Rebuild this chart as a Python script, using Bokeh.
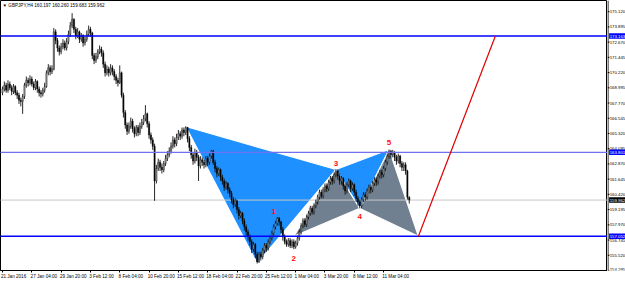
from bokeh.plotting import figure
from bokeh.layouts import row
from bokeh.models import FixedTicker, Label, Range1d, ColumnDataSource
from bokeh.embed import file_html
from bokeh.resources import INLINE
from bokeh.core.properties import value

header = "\u25bc GBPJPY,H4 160.197 160.260 159.683 159.962"

date_ticks = [0, 16, 32, 48, 64, 80, 96, 112, 128, 144, 160, 176, 192, 208]
date_labels = ["21 Jan 2016", "27 Jan 04:00", "29 Jan 20:00", "3 Feb 12:00", "8 Feb 04:00",
               "10 Feb 20:00", "15 Feb 12:00", "18 Feb 04:00", "22 Feb 20:00", "25 Feb 12:00",
               "1 Mar 04:00", "3 Mar 20:00", "8 Mar 12:00", "11 Mar 04:00"]

price_ticks = [154.295, 155.520, 156.745, 157.970, 159.195, 160.420, 161.645, 162.870, 164.095,
               165.320, 166.545, 167.770, 168.995, 170.220, 171.445, 172.670, 173.895, 175.120]

first_open = 168.6
close = [168.9, 169.2, 168.8, 169.3, 169.0, 168.7, 169.1, 168.6, 168.4, 168.0,
         167.9, 168.3, 169.2, 169.6, 169.4, 169.7, 169.3, 169.0, 169.5, 168.9,
         168.6, 168.5, 168.8, 169.1, 170.2, 170.6, 170.3, 170.5, 173.5, 172.8,
         172.2, 171.9, 172.3, 172.6, 172.2, 172.7, 173.3, 174.0, 174.5, 173.7,
         173.2, 173.5, 172.9, 173.2, 172.6, 172.9, 173.3, 173.7, 173.4, 171.6,
         171.2, 171.5, 171.9, 172.1, 171.8, 170.9, 170.2, 170.5, 170.2, 170.6,
         170.3, 169.9, 169.6, 169.4, 170.2, 168.4, 167.0, 166.0, 165.5, 165.9,
         166.3, 165.7, 165.3, 165.8, 165.4, 165.9, 166.2, 166.5, 166.9, 166.1,
         165.2, 164.8, 164.3, 161.5, 162.5, 163.0, 162.6, 162.4, 162.9, 163.3,
         163.6, 163.9, 164.3, 164.8, 164.5, 165.0, 165.3, 165.1, 165.6, 165.4,
         165.8, 164.9, 164.2, 163.6, 163.1, 163.8, 163.4, 162.7, 163.2, 163.0,
         162.8, 163.3, 163.0, 163.5, 163.9, 163.0, 162.5, 162.1, 162.4, 161.8,
         161.5, 161.0, 161.3, 160.8, 160.5, 160.0, 159.6, 159.9, 159.2, 158.7,
         158.9, 158.3, 157.8, 157.4, 157.0, 156.6, 156.0, 156.4, 155.6, 155.0,
         155.6, 155.4, 155.9, 156.3, 156.1, 156.6, 156.9, 157.3, 157.8, 158.1,
         158.5, 158.2, 157.6, 157.0, 156.6, 156.4, 156.7, 156.3, 156.6, 156.2,
         156.5, 156.9, 157.4, 157.9, 158.3, 158.0, 158.6, 158.9, 159.3, 159.0,
         159.5, 159.8, 160.2, 160.6, 160.3, 160.8, 161.1, 160.9, 161.4, 161.7,
         161.5, 162.0, 162.3, 161.9, 161.5, 161.7, 161.1, 160.7, 161.2, 161.5,
         160.9, 161.2, 160.6, 160.1, 159.8, 159.5, 160.0, 160.4, 160.2, 160.7,
         161.0, 160.8, 161.3, 161.6, 161.4, 161.9, 162.2, 162.0, 162.5, 163.0,
         163.5, 163.9, 163.6, 163.8, 163.4, 163.1, 163.5, 162.9, 162.6, 162.8,
         162.3, 160.197, 159.962]
high = [169.1, 169.5, 169.4, 169.6, 169.5, 169.2, 169.3, 169.2, 168.8, 168.6,
        168.2, 168.5, 169.4, 169.9, 169.8, 170.0, 169.9, 169.5, 169.7, 169.6,
        169.1, 168.8, 169.0, 169.4, 170.4, 170.9, 170.8, 170.8, 173.8, 173.7,
        173.0, 172.4, 172.6, 172.9, 172.8, 173.0, 173.6, 174.3, 175.0, 174.6,
        173.9, 173.8, 173.6, 173.4, 173.3, 173.1, 173.6, 174.0, 173.9, 173.5,
        171.8, 171.8, 172.1, 172.4, 172.3, 172.0, 171.1, 170.8, 170.7, 170.9,
        170.8, 170.5, 170.1, 169.8, 170.8, 170.3, 168.6, 167.2, 166.2, 166.2,
        166.6, 166.5, 165.9, 166.0, 166.0, 166.2, 166.5, 166.8, 167.6, 167.0,
        166.3, 165.4, 165.0, 164.5, 162.8, 163.3, 163.2, 162.9, 163.1, 163.6,
        163.9, 164.2, 164.6, 165.1, 165.0, 165.3, 165.6, 165.5, 165.8, 165.8,
        165.9, 165.85, 165.1, 164.4, 163.8, 164.1, 164.0, 163.6, 163.5, 163.4,
        163.2, 163.5, 163.5, 163.7, 164.0, 164.0, 163.2, 162.7, 162.6, 162.5,
        162.0, 161.7, 161.5, 161.4, 161.0, 160.7, 160.2, 160.1, 160.0, 159.4,
        159.1, 159.0, 158.5, 158.0, 157.6, 157.2, 156.8, 156.6, 156.5, 155.8,
        155.8, 155.8, 156.1, 156.5, 156.5, 156.8, 157.1, 157.5, 158.0, 158.3,
        158.6, 158.6, 158.3, 157.8, 157.2, 156.8, 156.9, 156.9, 156.8, 156.8,
        156.7, 157.1, 157.6, 158.1, 158.5, 158.5, 158.8, 159.1, 159.5, 159.5,
        159.7, 160.0, 160.4, 160.8, 160.8, 161.0, 161.3, 161.3, 161.6, 161.9,
        161.9, 162.2, 162.45, 162.4, 162.1, 161.9, 161.8, 161.3, 161.4, 161.7,
        161.6, 161.4, 161.3, 160.8, 160.3, 160.0, 160.2, 160.6, 160.6, 160.9,
        161.2, 161.2, 161.5, 161.8, 161.8, 162.1, 162.4, 162.4, 162.7, 163.2,
        163.7, 164.03, 164.0, 164.0, 163.9, 163.6, 163.7, 163.6, 163.1, 163.0,
        163.0, 162.4, 160.26]
low = [168.4, 168.7, 168.6, 168.6, 168.8, 168.4, 168.5, 168.4, 168.1, 167.7,
       167.5, 166.9, 168.1, 169.0, 169.1, 169.2, 169.1, 168.8, 168.8, 168.6,
       168.3, 168.2, 168.3, 168.6, 169.0, 170.0, 170.0, 170.1, 170.4, 172.5,
       171.9, 171.6, 171.7, 172.1, 172.0, 172.0, 172.5, 173.1, 173.8, 173.4,
       172.9, 173.0, 172.6, 172.7, 172.3, 172.4, 172.7, 173.1, 173.1, 171.3,
       170.9, 171.0, 171.3, 171.7, 171.5, 170.6, 169.9, 170.0, 169.9, 170.0,
       170.0, 169.6, 169.3, 169.1, 169.3, 168.2, 166.6, 165.7, 165.2, 165.3,
       165.7, 165.4, 165.0, 165.1, 165.1, 165.2, 165.7, 166.0, 166.3, 165.8,
       164.9, 164.5, 164.0, 159.9, 161.3, 162.3, 162.3, 162.1, 162.2, 162.7,
       163.1, 163.4, 163.7, 164.1, 164.2, 164.3, 164.8, 164.8, 164.9, 165.1,
       165.2, 164.6, 163.9, 163.3, 162.8, 162.9, 163.1, 161.5, 162.5, 162.7,
       162.5, 162.6, 162.7, 162.8, 163.3, 162.8, 162.2, 161.8, 161.9, 161.5,
       161.2, 160.7, 160.8, 160.5, 160.2, 159.7, 159.3, 159.4, 158.9, 158.4,
       158.5, 158.0, 157.5, 157.1, 156.7, 156.3, 155.7, 155.8, 155.3, 154.86,
       154.9, 155.1, 155.2, 155.7, 155.8, 155.9, 156.4, 156.7, 157.1, 157.6,
       157.9, 157.9, 157.3, 156.7, 156.4, 156.2, 156.2, 156.1, 156.1, 156.0,
       156.05, 156.3, 156.7, 157.2, 157.7, 157.8, 157.8, 158.4, 158.7, 158.8,
       158.8, 159.3, 159.6, 160.0, 160.1, 160.1, 160.6, 160.6, 160.7, 161.2,
       161.2, 161.3, 161.8, 161.6, 161.2, 161.2, 160.8, 160.4, 160.5, 161.0,
       160.6, 160.7, 160.3, 159.8, 159.5, 159.3, 159.35, 159.8, 159.9, 160.0,
       160.5, 160.5, 160.6, 161.1, 161.1, 161.2, 161.7, 161.7, 161.8, 162.3,
       162.8, 163.3, 163.3, 163.4, 163.1, 162.8, 162.9, 162.6, 162.3, 162.3,
       162.0, 160.0, 159.683]

# harmonic pattern turning points (bar index, price)
pattern_idx = [100, 139, 159, 182, 195, 211, 227]
pattern_price = [165.88, 154.86, 157.05, 162.42, 159.29, 164.03, 157.05]
target_idx = [227, 269]
target_price = [157.05, 173.163]

wave_labels = ["1", "2", "3", "4", "5"]
wave_idx = [148, 159, 182, 195, 211]
wave_price = [159.05, 155.25, 162.90, 158.65, 164.62]

level_prices = [173.163, 163.801, 157.052]
level_colors = ["#0000ff", "#7070f0", "#0000ff"]
current_price = 159.962

Y_LO, Y_HI = 154.295, 176.02
AXIS_H = 11
LABEL_FONT = "4.3px"

n = len(close)
idx = list(range(n))
opens = [first_open] + close[:-1]
bull = [c >= o for o, c in zip(opens, close)]
src = ColumnDataSource(dict(
    x=idx, o=opens, c=close, h=high, l=low,
    top=[max(o, c) for o, c in zip(opens, close)],
    bot=[min(o, c) for o, c in zip(opens, close)],
    fill=["#9a9a9a" if b else "#000000" for b in bull],
))

# ---------------- main chart ----------------
yr = Range1d(Y_LO, Y_HI)
p = figure(width=607, height=281, output_backend="svg", toolbar_location=None,
           x_range=Range1d(-1.09, 330.2), y_range=yr,
           y_axis_location=None, min_border_left=0, min_border_top=0,
           min_border_right=0, min_border_bottom=AXIS_H)
p.xgrid.visible = False
p.ygrid.visible = False
p.outline_line_color = "#000000"
p.background_fill_color = "white"
p.border_fill_color = "white"

P = list(zip(pattern_idx, pattern_price))
tri = [(0, 1, 3), (2, 3, 4), (3, 5, 4), (4, 5, 6)]
tri_colors = ["#1e90ff", "#708090", "#1e90ff", "#708090"]
p.patches(xs=[[P[a][0], P[b][0], P[c][0]] for a, b, c in tri],
          ys=[[P[a][1], P[b][1], P[c][1]] for a, b, c in tri],
          fill_color=tri_colors, line_color="white", line_width=1.2)

p.line(x=[-5, 340], y=[current_price, current_price], line_color="#c8c8c8", line_width=1)

p.segment(x0="x", y0="l", x1="x", y1="h", source=src, line_color="#111111", line_width=0.9)
p.vbar(x="x", top="top", bottom="bot", width=0.7, source=src, fill_color="fill",
       line_color="#111111", line_width=0.4)

for lv, col in zip(level_prices, level_colors):
    p.line(x=[-5, 340], y=[lv, lv], line_color=col, line_width=1.4)

p.line(x=target_idx, y=target_price, line_color="#e00000", line_width=1.2)

p.text(x=wave_idx, y=wave_price, text=wave_labels, text_color="#ff1010",
       text_font=value("Liberation Sans"), text_font_size="8px", text_font_style="bold",
       text_align="center", text_baseline="middle")

label_pos = [t + 0.55 * len(s) for t, s in zip(date_ticks, date_labels)]
p.xaxis.ticker = FixedTicker(ticks=label_pos, minor_ticks=date_ticks)
p.xaxis.major_label_overrides = {t: s for t, s in zip(label_pos, date_labels)}
ax = p.xaxis[0]
ax.major_label_text_font = "Liberation Sans"
ax.major_label_text_font_size = "4.6px"
ax.major_label_text_color = "#000000"
ax.major_tick_in = 0
ax.major_tick_out = 0
ax.minor_tick_in = 0
ax.minor_tick_out = 2
ax.minor_tick_line_color = "#000000"
ax.axis_line_color = "#000000"
ax.major_label_standoff = 1

p.add_layout(Label(x=0.0, y=175.62, text=header, text_font="Liberation Sans",
                   text_font_size="4.6px", text_color="#000000", text_baseline="middle"))

# ---------------- price scale strip (right) ----------------
q = figure(width=18, height=281, output_backend="svg", toolbar_location=None,
           x_range=Range1d(0, 18), y_range=yr,
           x_axis_type=None, y_axis_type=None, min_border_left=0, min_border_top=0,
           min_border_right=0, min_border_bottom=AXIS_H)
q.grid.visible = False
q.outline_line_color = None
q.background_fill_color = "white"
q.border_fill_color = "white"

q.segment(x0=0.5, x1=0.5, y0=Y_LO, y1=Y_HI, line_color="#000000", line_width=1)
q.segment(x0=0, x1=2, y0=price_ticks, y1=price_ticks, line_color="#000000", line_width=1)
mid_ticks = price_ticks[1:]
q.text(x=2.2, y=mid_ticks, text=[f"{t:.3f}" for t in mid_ticks], text_color="#000000",
       text_font=value("Liberation Sans"), text_font_size=LABEL_FONT,
       text_align="left", text_baseline="middle")
q.text(x=2.2, y=price_ticks[:1], text=[f"{price_ticks[0]:.3f}"], text_color="#000000",
       text_font=value("Liberation Sans"), text_font_size=LABEL_FONT,
       text_align="left", text_baseline="bottom")

tag_prices = level_prices + [current_price]
tag_colors = ["#0000ff", "#0000ff", "#0000ff", "#000000"]
q.rect(x=9.8, y=tag_prices, width=16.4, height=5.5, height_units="screen",
       fill_color=tag_colors, line_color=None)
q.text(x=2.2, y=tag_prices, text=[f"{t:.3f}" for t in tag_prices], text_color="white",
       text_font=value("Liberation Sans"), text_font_size=LABEL_FONT,
       text_align="left", text_baseline="middle")

layout = row(p, q, spacing=0)
open("out.html", "w").write(file_html(layout, INLINE))
